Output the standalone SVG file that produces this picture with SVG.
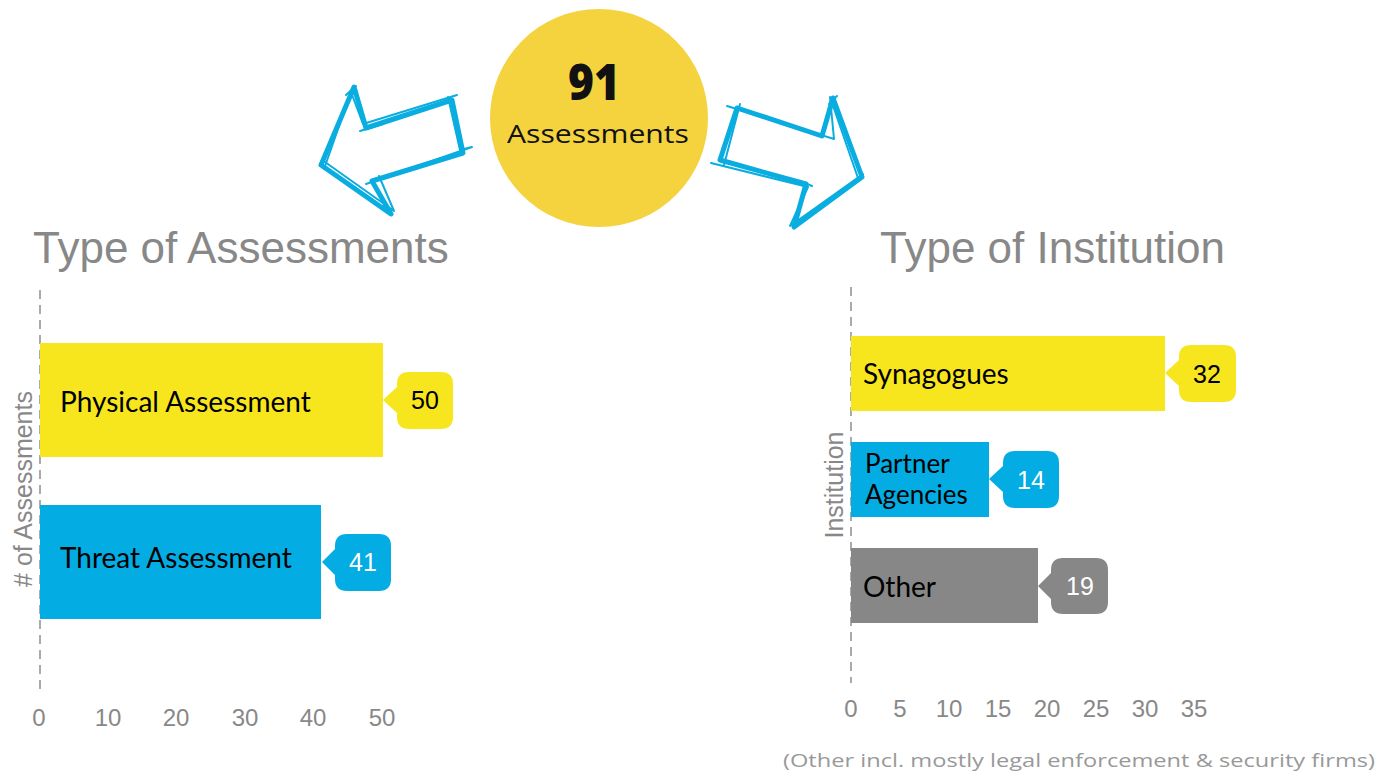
<svg xmlns="http://www.w3.org/2000/svg" width="1391" height="777" viewBox="0 0 1391 777">
<style>
.title{font-family:"Liberation Sans",Arial,sans-serif;font-size:44px;fill:#888888}
.tick{font-family:"Liberation Sans",Arial,sans-serif;font-size:24px;fill:#888888;text-anchor:middle}
.axlab{font-family:"Liberation Sans",Arial,sans-serif;font-size:25px;fill:#888888;text-anchor:middle}
.blab{font-family:Lato,"Open Sans",sans-serif;font-size:28px;fill:#000000}
.blab2{font-family:Lato,"Open Sans",sans-serif;font-size:26px;fill:#000000}
.val{font-family:"Liberation Sans",Arial,sans-serif;font-size:25px;text-anchor:middle}
.axis{stroke:#aaaaaa;stroke-width:2;stroke-dasharray:9,6;fill:none}
.sk{fill:none;stroke:#0AADE0;stroke-linecap:round;stroke-linejoin:round}
.sk1{stroke-width:5}
.sk2{stroke-width:2}
.yel{fill:#F7E61E}
.blu{fill:#03ACE2}
.gry{fill:#878787}
</style>

<g id="connectors">
  <g id="arrow-left">
    <polyline class="sk sk1" points="321,165 354,87 366,128 452,100 463,153 372,181 391,214 321,165"/>
    <polyline class="sk sk2" points="324,169 351,92 363,124 457,95"/>
    <polyline class="sk sk2" points="448,97 460,150 472,147 366,184"/>
    <polyline class="sk sk2" points="379,176 394,211 325,162"/>
    <line class="sk sk2" x1="346" y1="95" x2="356" y2="86"/>
    <line class="sk sk2" x1="360" y1="131" x2="383" y2="124"/>
  </g>
  <g id="arrow-right">
    <polyline class="sk sk1" points="737,108 822,136 833,98 862,177 794,227 806,184 720,160 737,108"/>
    <polyline class="sk sk2" points="727,106 834,139 830,97 859,181"/>
    <polyline class="sk sk2" points="863,174 790,226 808,187 711,163"/>
    <polyline class="sk sk2" points="724,165 740,104"/>
    <line class="sk sk2" x1="812" y1="186" x2="800" y2="181"/>
    <line class="sk sk2" x1="829" y1="104" x2="837" y2="96"/>
  </g>
</g>

<g id="total">
  <circle cx="599" cy="118" r="109" fill="#F4D33F"/>
  <text x="594" y="100" text-anchor="middle" font-family="'Open Sans',Lato,sans-serif" font-weight="800" font-size="50" fill="#111111" textLength="52" lengthAdjust="spacingAndGlyphs">91</text>
  <text x="598" y="143" text-anchor="middle" font-family="'Open Sans',Lato,sans-serif" font-size="26" fill="#111111" textLength="182" lengthAdjust="spacingAndGlyphs">Assessments</text>
</g>

<g id="chart-assessments">
  <text class="title" x="33" y="263">Type of Assessments</text>
  <line class="axis" x1="40" y1="290" x2="40" y2="692"/>
  <text class="axlab" transform="translate(32,489) rotate(-90)">
    <tspan x="0" y="0"># of Assessments</tspan>
  </text>
  <g class="ticks">
    <text class="tick" x="39" y="726">0</text>
    <text class="tick" x="108" y="726">10</text>
    <text class="tick" x="176" y="726">20</text>
    <text class="tick" x="245" y="726">30</text>
    <text class="tick" x="313" y="726">40</text>
    <text class="tick" x="382" y="726">50</text>
  </g>
  <g id="bar-physical">
    <rect class="yel" x="40" y="343" width="343" height="114"/>
    <text class="blab" x="60" y="412">Physical Assessment</text>
    <path class="yel" d="M409,372 H441 Q453,372 453,384 V417 Q453,429 441,429 H409 Q397,429 397,417 V413 L383,400 L397,387 V384 Q397,372 409,372 Z"/>
    <text class="val" x="425" y="409" fill="#000000">50</text>
  </g>
  <g id="bar-threat">
    <rect class="blu" x="40" y="505" width="281" height="114"/>
    <text class="blab" x="60" y="568">Threat Assessment</text>
    <path class="blu" d="M347,534 H379 Q391,534 391,546 V579 Q391,591 379,591 H347 Q335,591 335,579 V575 L322,562 L335,549 V546 Q335,534 347,534 Z"/>
    <text class="val" x="363" y="571" fill="#ffffff">41</text>
  </g>
</g>

<g id="chart-institution">
  <text class="title" x="880" y="263">Type of Institution</text>
  <line class="axis" x1="851" y1="287" x2="851" y2="683"/>
  <text class="axlab" transform="translate(843,485) rotate(-90)">
    <tspan x="0" y="0">Institution</tspan>
  </text>
  <g class="ticks">
    <text class="tick" x="851" y="717">0</text>
    <text class="tick" x="900" y="717">5</text>
    <text class="tick" x="949" y="717">10</text>
    <text class="tick" x="998" y="717">15</text>
    <text class="tick" x="1047" y="717">20</text>
    <text class="tick" x="1096" y="717">25</text>
    <text class="tick" x="1145" y="717">30</text>
    <text class="tick" x="1194" y="717">35</text>
  </g>
  <g id="bar-synagogues">
    <rect class="yel" x="851" y="336" width="314" height="75"/>
    <text class="blab" x="863" y="384">Synagogues</text>
    <path class="yel" d="M1191,345 H1224 Q1236,345 1236,357 V390 Q1236,402 1224,402 H1191 Q1179,402 1179,390 V386 L1165,373 L1179,360 V357 Q1179,345 1191,345 Z"/>
    <text class="val" x="1207" y="383" fill="#000000">32</text>
  </g>
  <g id="bar-partner">
    <rect class="blu" x="851" y="442" width="138" height="75"/>
    <text class="blab2" x="865" y="473">Partner</text>
    <text class="blab2" x="865" y="504">Agencies</text>
    <path class="blu" d="M1015,451 H1047 Q1059,451 1059,463 V496 Q1059,508 1047,508 H1015 Q1003,508 1003,496 V492 L989,479 L1003,466 V463 Q1003,451 1015,451 Z"/>
    <text class="val" x="1031" y="489" fill="#ffffff">14</text>
  </g>
  <g id="bar-other">
    <rect class="gry" x="851" y="548" width="187" height="75"/>
    <text class="blab" x="863" y="597">Other</text>
    <path class="gry" d="M1063,558 H1096 Q1108,558 1108,570 V602 Q1108,614 1096,614 H1063 Q1051,614 1051,602 V599 L1038,586 L1051,573 V570 Q1051,558 1063,558 Z"/>
    <text class="val" x="1080" y="595" fill="#ffffff">19</text>
  </g>
  <text x="1375" y="767" text-anchor="end" font-family="'Open Sans',Lato,sans-serif" font-size="19" fill="#999999" textLength="592" lengthAdjust="spacingAndGlyphs">(Other incl. mostly legal enforcement &amp; security firms)</text>
</g>
</svg>
